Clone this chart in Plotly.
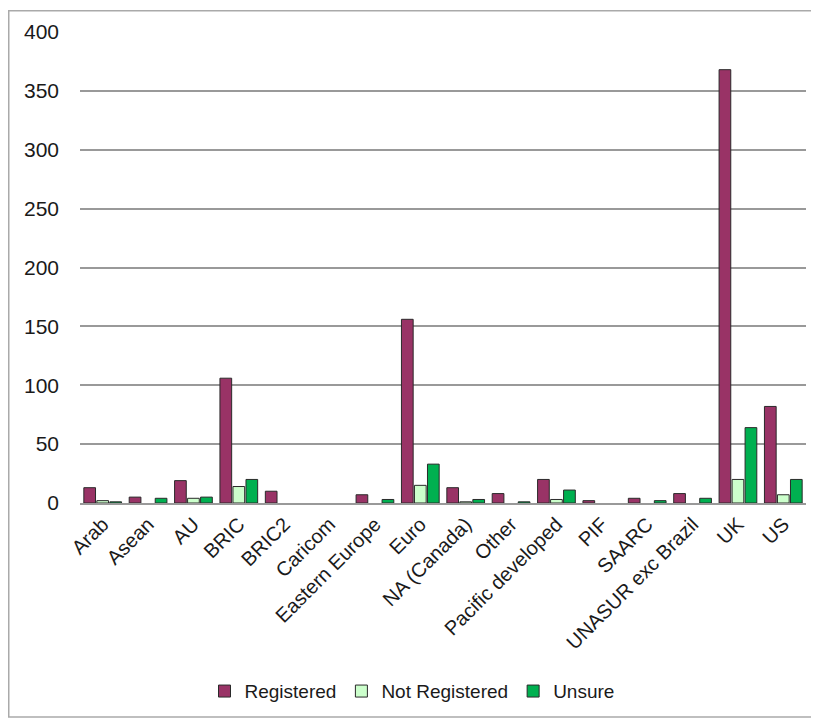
import plotly.graph_objects as go

# ─────────────────────────────────────────────────────────────────────────────
# Data (None = no bar drawn)
# ─────────────────────────────────────────────────────────────────────────────

categories = ["Arab", "Asean", "AU", "BRIC", "BRIC2", "Caricom", "Eastern Europe",
              "Euro", "NA (Canada)", "Other", "Pacific developed", "PIF", "SAARC",
              "UNASUR exc Brazil", "UK", "US"]
registered     = [13, 5, 19, 106, 10, None, 7, 156, 13, 8, 20, 2, 4, 8, 368, 82]
not_registered = [2, None, 4, 14, None, None, None, 15, 1, None, 3, None, None, None, 20, 7]
unsure         = [1, 4, 5, 20, None, None, 3, 33, 3, 1, 11, None, 2, 4, 64, 20]

y_ticks = [0, 50, 100, 150, 200, 250, 300, 350, 400]

FONT = "Liberation Sans, Arial, sans-serif"
OUTLINE = dict(color="#2a2a2a", width=1)

# page body adds an 8px offset, so the figure is laid out 8px smaller
W, H = 811, 714
L, R, T, B = 72, 13, 22, 219
PW, PH = W - L - R, H - T - B

fig = go.Figure()
fig.add_trace(go.Bar(name="Registered", x=categories, y=registered,
                     marker=dict(color="#993366", line=OUTLINE)))
fig.add_trace(go.Bar(name="Not Registered", x=categories, y=not_registered,
                     marker=dict(color="#CCFFCC", line=OUTLINE)))
fig.add_trace(go.Bar(name="Unsure", x=categories, y=unsure,
                     marker=dict(color="#00B050", line=OUTLINE)))

fig.update_layout(
    width=W, height=H,
    margin=dict(l=L, r=R, t=T, b=B),
    paper_bgcolor="white", plot_bgcolor="white",
    barmode="group", bargap=0.14, bargroupgap=0.1,
    font=dict(family=FONT, color="#1a1a1a"),
    showlegend=True,
    legend=dict(orientation="h", x=(404 - L) / PW, xanchor="center",
                y=(T + PH - 684) / PH, yanchor="middle",
                font=dict(size=19), itemwidth=30, traceorder="normal"),
    xaxis=dict(tickangle=-45, tickfont=dict(size=20), showgrid=False,
               showline=True, linecolor="#999999", linewidth=1.5, ticks=""),
    yaxis=dict(range=[0, 400], tickvals=y_ticks, tickfont=dict(size=21),
               showgrid=True, gridcolor="#999999", gridwidth=1.5,
               zeroline=False, showline=False, ticks="", ticklabelstandoff=20),
    shapes=[dict(type="rect", xref="paper", yref="paper",
                 x0=(0.75 - L) / PW, x1=(808 - L) / PW,
                 y0=(T + PH - 710) / PH, y1=(T + PH - 0.75) / PH,
                 line=dict(color="#aaaaaa", width=1.5), layer="below")],
)

fig.write_html("out.html")
